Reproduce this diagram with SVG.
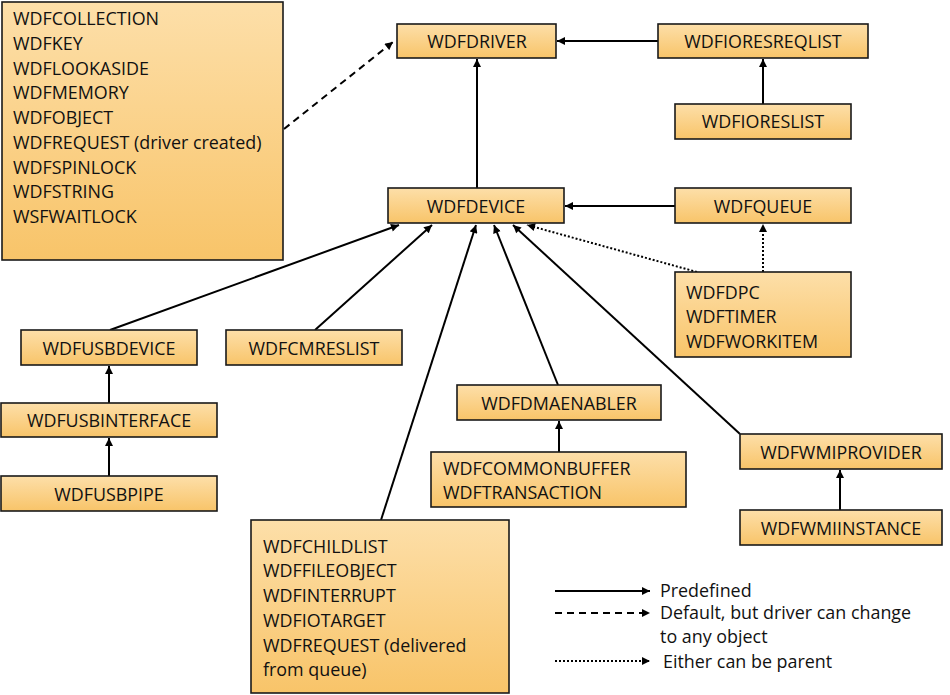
<svg xmlns="http://www.w3.org/2000/svg" width="950" height="695" viewBox="0 0 950 695">
<style>
.box{fill:url(#g);stroke:#1a1a1a;stroke-width:1.6}
text{font-family:"Open Sans",Lato,"Liberation Sans",sans-serif;font-size:17.9px;fill:#111;dominant-baseline:central}
.c{text-anchor:middle}
.ln{fill:none;stroke:#000;stroke-width:2}
.da{stroke-dasharray:7,5}
.do{stroke-dasharray:2,2}
</style>
<defs>
<linearGradient id="g" x1="0" y1="0" x2="0" y2="1">
<stop offset="0" stop-color="#fddfa9"/>
<stop offset="1" stop-color="#f8c469"/>
</linearGradient>
<marker id="a" viewBox="0 0 10 10" refX="10" refY="5" markerWidth="9" markerHeight="8" markerUnits="userSpaceOnUse" orient="auto">
<path d="M0,0 L10,5 L0,10 z" fill="#000"/>
</marker>
</defs>

<g id="connectors">
<line class="ln" x1="658" y1="41" x2="557" y2="41" marker-end="url(#a)"/>
<line class="ln" x1="763" y1="104" x2="763" y2="59" marker-end="url(#a)"/>
<line class="ln" x1="477" y1="188" x2="477" y2="59" marker-end="url(#a)"/>
<line class="ln da" x1="284" y1="129" x2="393" y2="42" marker-end="url(#a)"/>
<line class="ln" x1="675" y1="206" x2="565" y2="206" marker-end="url(#a)"/>
<line class="ln do" x1="763" y1="272" x2="763" y2="224" marker-end="url(#a)"/>
<line class="ln do" x1="697" y1="272" x2="527" y2="225" marker-end="url(#a)"/>
<line class="ln" x1="110" y1="330" x2="399" y2="225" marker-end="url(#a)"/>
<line class="ln" x1="315" y1="330" x2="432" y2="225" marker-end="url(#a)"/>
<line class="ln" x1="381" y1="520" x2="476" y2="225" marker-end="url(#a)"/>
<line class="ln" x1="558" y1="385" x2="494" y2="225" marker-end="url(#a)"/>
<line class="ln" x1="740" y1="434" x2="513" y2="225" marker-end="url(#a)"/>
<line class="ln" x1="109" y1="403" x2="109" y2="366" marker-end="url(#a)"/>
<line class="ln" x1="109" y1="476" x2="109" y2="438" marker-end="url(#a)"/>
<line class="ln" x1="559" y1="452" x2="559" y2="421" marker-end="url(#a)"/>
<line class="ln" x1="840" y1="510" x2="840" y2="470" marker-end="url(#a)"/>
</g>

<g id="general-objects">
<rect class="box" x="2" y="2" width="281" height="258"/>
<text x="13" y="18">WDFCOLLECTION</text>
<text x="13" y="43">WDFKEY</text>
<text x="13" y="68">WDFLOOKASIDE</text>
<text x="13" y="92">WDFMEMORY</text>
<text x="13" y="117">WDFOBJECT</text>
<text x="13" y="142">WDFREQUEST (driver created)</text>
<text x="13" y="167">WDFSPINLOCK</text>
<text x="13" y="191">WDFSTRING</text>
<text x="13" y="216">WSFWAITLOCK</text>
</g>
<g id="wdfdriver"><rect class="box" x="397" y="24" width="159" height="34"/><text class="c" x="477" y="41">WDFDRIVER</text></g>
<g id="wdfioresreqlist"><rect class="box" x="658" y="24" width="210" height="34"/><text class="c" x="763" y="41">WDFIORESREQLIST</text></g>
<g id="wdfioreslist"><rect class="box" x="675" y="104" width="176" height="35"/><text class="c" x="763" y="121">WDFIORESLIST</text></g>
<g id="wdfdevice"><rect class="box" x="388" y="188" width="176" height="35"/><text class="c" x="476" y="206">WDFDEVICE</text></g>
<g id="wdfqueue"><rect class="box" x="675" y="188" width="176" height="35"/><text class="c" x="763" y="206">WDFQUEUE</text></g>
<g id="wdfdpc-group">
<rect class="box" x="675" y="272" width="176" height="85"/>
<text x="686" y="292">WDFDPC</text>
<text x="686" y="316">WDFTIMER</text>
<text x="686" y="341">WDFWORKITEM</text>
</g>
<g id="wdfusbdevice"><rect class="box" x="21" y="330" width="176" height="35"/><text class="c" x="109" y="348">WDFUSBDEVICE</text></g>
<g id="wdfcmreslist"><rect class="box" x="226" y="330" width="176" height="35"/><text class="c" x="314" y="348">WDFCMRESLIST</text></g>
<g id="wdfusbinterface"><rect class="box" x="1" y="403" width="216" height="34"/><text class="c" x="109" y="420">WDFUSBINTERFACE</text></g>
<g id="wdfusbpipe"><rect class="box" x="1" y="476" width="216" height="35"/><text class="c" x="109" y="494">WDFUSBPIPE</text></g>
<g id="wdfdmaenabler"><rect class="box" x="457" y="385" width="204" height="35"/><text class="c" x="559" y="403">WDFDMAENABLER</text></g>
<g id="wdfcommonbuffer-group">
<rect class="box" x="431" y="452" width="255" height="55"/>
<text x="443" y="468">WDFCOMMONBUFFER</text>
<text x="443" y="492">WDFTRANSACTION</text>
</g>
<g id="wdfwmiprovider"><rect class="box" x="740" y="434" width="202" height="35"/><text class="c" x="841" y="452">WDFWMIPROVIDER</text></g>
<g id="wdfwmiinstance"><rect class="box" x="740" y="510" width="202" height="35"/><text class="c" x="841" y="528">WDFWMIINSTANCE</text></g>
<g id="device-children">
<rect class="box" x="251" y="520" width="258" height="173"/>
<text x="263" y="546">WDFCHILDLIST</text>
<text x="263" y="570">WDFFILEOBJECT</text>
<text x="263" y="595">WDFINTERRUPT</text>
<text x="263" y="620">WDFIOTARGET</text>
<text x="263" y="645">WDFREQUEST (delivered</text>
<text x="263" y="669">from queue)</text>
</g>

<g id="legend">
<line class="ln" x1="555" y1="591" x2="650" y2="591" marker-end="url(#a)"/>
<text x="660" y="590">Predefined</text>
<line class="ln da" x1="555" y1="613" x2="650" y2="613" marker-end="url(#a)"/>
<text x="660" y="612">Default, but driver can change</text>
<text x="660" y="636">to any object</text>
<line class="ln do" x1="555" y1="661" x2="650" y2="661" marker-end="url(#a)"/>
<text x="663" y="661">Either can be parent</text>
</g>
</svg>
